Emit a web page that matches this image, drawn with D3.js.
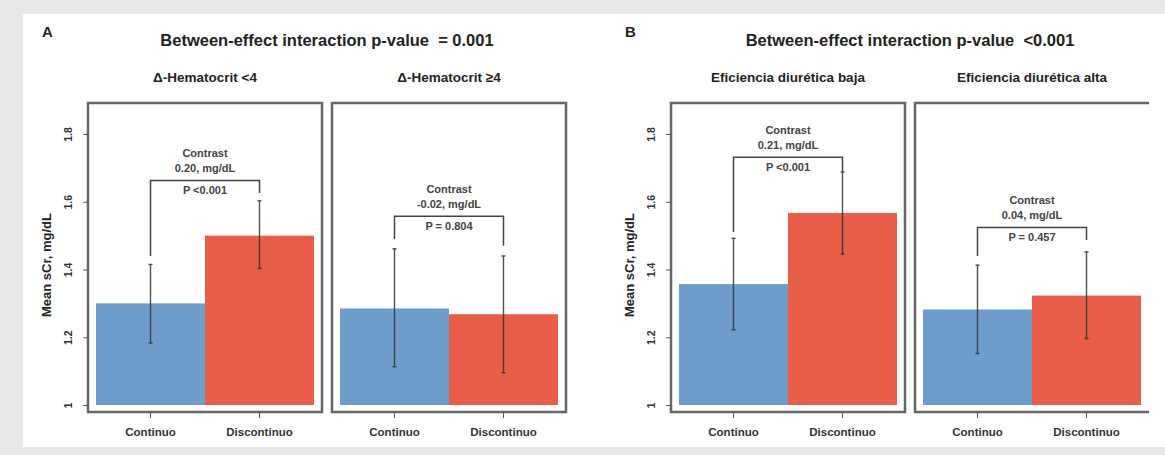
<!DOCTYPE html>
<html>
<head>
<meta charset="utf-8">
<script src="https://cdn.jsdelivr.net/npm/d3@7"></script>
<style>
	body { margin: 0; background: #e8e8e8; }
	svg text { font-family: "Liberation Sans", Arial, sans-serif; white-space: pre; }
</style>
</head>
<body>
<div id="chart"></div>
<script>
const CATEGORIES = ["Continuo", "Discontinuo"];
const FIGURE_LABELS = ["A", "B"];
const FIGURE_TITLES = ["Between-effect interaction p-value  = 0.001", "Between-effect interaction p-value  <0.001"];
const SUBGROUPS = ["Δ-Hematocrit <4", "Δ-Hematocrit ≥4", "Eficiencia diurética baja", "Eficiencia diurética alta"];
const SUBGROUP_FIGURE = [0, 0, 1, 1];

// mean sCr and error bar ends, one value per subgroup
const CONTINUO_MEAN = [1.30, 1.285, 1.357, 1.282];
const CONTINUO_LOW = [1.183, 1.113, 1.222, 1.152];
const CONTINUO_HIGH = [1.415, 1.461, 1.492, 1.413];
const DISCONTINUO_MEAN = [1.50, 1.268, 1.567, 1.323];
const DISCONTINUO_LOW = [1.403, 1.095, 1.446, 1.196];
const DISCONTINUO_HIGH = [1.603, 1.44, 1.688, 1.452];

// contrast brackets
const BRACKET_TOP = [1.663, 1.557, 1.731, 1.524];
const BRACKET_LEFT_END = [1.44, 1.49, 1.511, 1.44];
const BRACKET_RIGHT_END = [1.626, 1.47, 1.688, 1.487];
const CONTRAST_LABELS = ["0.20, mg/dL", "-0.02, mg/dL", "0.21, mg/dL", "0.04, mg/dL"];
const P_LABELS = ["P <0.001", "P = 0.804", "P <0.001", "P = 0.457"];

const Y_TICKS = [1, 1.2, 1.4, 1.6, 1.8];
const Y_LABEL = "Mean sCr, mg/dL";

const WIDTH = 1165;
const HEIGHT = 455;
const FIG_LEFT = [88, 671];
const BOX_W = 234;
const BOX_GAP = 10;
const BOX_TOP = 103;
const BOX_BOTTOM = 412;
const COLORS = ["#6f9dcb", "#e95e48"];
const FONT_DARK = "#222";

const svg = d3.select("#chart").append("svg")
	.attr("width", WIDTH)
	.attr("height", HEIGHT);

svg.append("rect").attr("width", WIDTH).attr("height", HEIGHT).attr("fill", "#e8e8e8");
svg.append("rect").attr("x", 23).attr("y", 14).attr("width", WIDTH - 23).attr("height", 433).attr("fill", "#fff");

const y = d3.scaleLinear().domain([1, 1.8]).range([405, 134]);

FIGURE_LABELS.forEach((label, f) => {
	const left = FIG_LEFT[f];
	const center = left + BOX_W + BOX_GAP / 2;
	svg.append("text")
		.attr("x", left - 46).attr("y", 37)
		.style("font-size", "15px").style("font-weight", "bold").attr("fill", FONT_DARK)
		.text(label);
	svg.append("text")
		.attr("x", center).attr("y", 46)
		.attr("text-anchor", "middle")
		.style("font-size", "16.5px").style("font-weight", "bold").attr("fill", FONT_DARK)
		.text(FIGURE_TITLES[f]);
});

SUBGROUPS.forEach((name, i) => {
	const f = SUBGROUP_FIGURE[i];
	const first = i === 0 || SUBGROUP_FIGURE[i - 1] !== f;
	const left = FIG_LEFT[f] + (first ? 0 : BOX_W + BOX_GAP);
	const right = left + BOX_W;
	const last = i === SUBGROUPS.length - 1;
	const g = svg.append("g");

	const x = d3.scaleBand().domain(CATEGORIES).range([left + 8, right - 8]);
	const bw = x.bandwidth();
	const rows = [
		{cat: CATEGORIES[0], mean: CONTINUO_MEAN[i], low: CONTINUO_LOW[i], high: CONTINUO_HIGH[i]},
		{cat: CATEGORIES[1], mean: DISCONTINUO_MEAN[i], low: DISCONTINUO_LOW[i], high: DISCONTINUO_HIGH[i]}
	];

	g.append("text")
		.attr("x", (left + right) / 2).attr("y", 82)
		.attr("text-anchor", "middle")
		.style("font-size", "13.5px").style("font-weight", "bold").attr("fill", FONT_DARK)
		.text(name);

	g.selectAll("rect.bar").data(rows).enter().append("rect")
		.attr("class", "bar")
		.attr("x", (d) => x(d.cat))
		.attr("y", (d) => y(d.mean))
		.attr("width", bw)
		.attr("height", (d) => y(1) - y(d.mean))
		.attr("fill", (d, j) => COLORS[j]);

	const err = g.selectAll("g.err").data(rows).enter().append("g")
		.attr("class", "err")
		.attr("stroke", "#333").attr("stroke-opacity", 0.85).attr("stroke-width", 1.4);
	err.append("line")
		.attr("x1", (d) => x(d.cat) + bw / 2).attr("x2", (d) => x(d.cat) + bw / 2)
		.attr("y1", (d) => y(d.low)).attr("y2", (d) => y(d.high));
	["low", "high"].forEach((k) => {
		err.append("line")
			.attr("x1", (d) => x(d.cat) + bw / 2 - 2).attr("x2", (d) => x(d.cat) + bw / 2 + 2)
			.attr("y1", (d) => y(d[k])).attr("y2", (d) => y(d[k]));
	});

	// contrast bracket
	const c0 = x(CATEGORIES[0]) + bw / 2;
	const c1 = x(CATEGORIES[1]) + bw / 2;
	const by = y(BRACKET_TOP[i]);
	g.append("path")
		.attr("d", `M${c0},${y(BRACKET_LEFT_END[i])}V${by}H${c1}V${y(BRACKET_RIGHT_END[i])}`)
		.attr("fill", "none").attr("stroke", "#444").attr("stroke-width", 1.5);
	const mid = (c0 + c1) / 2;
	[["Contrast", -23], [CONTRAST_LABELS[i], -8], [P_LABELS[i], 14]].forEach(([t, dy]) => {
		g.append("text")
			.attr("x", mid).attr("y", by + dy)
			.attr("text-anchor", "middle")
			.style("font-size", "11px").style("font-weight", "bold").attr("fill", "#444")
			.text(t);
	});

	// frame, the last one is cut at the right edge of the figure
	const frame = last
		? `M${right},${BOX_TOP}H${left}V${BOX_BOTTOM}H${right}`
		: `M${left},${BOX_TOP}H${right}V${BOX_BOTTOM}H${left}Z`;
	g.append("path").attr("d", frame)
		.attr("fill", "none").attr("stroke", "#666").attr("stroke-width", 2.5);

	// x axis
	const xa = g.append("g")
		.attr("transform", `translate(0,${BOX_BOTTOM})`)
		.call(d3.axisBottom(x).tickSize(6).tickPadding(10));
	xa.select(".domain").remove();
	xa.selectAll(".tick line").attr("stroke", "#555");
	xa.selectAll(".tick text")
		.style("font-size", "11.5px").style("font-weight", "bold").attr("fill", "#333");

	if (first) {
		const ya = g.append("g")
			.attr("transform", `translate(${left},0)`)
			.call(d3.axisLeft(y).tickValues(Y_TICKS).tickSize(5)
				.tickFormat((d) => (d === 1 ? "1" : d3.format(".1f")(d))));
		ya.select(".domain").remove();
		ya.selectAll(".tick line").attr("stroke", "#555");
		ya.selectAll(".tick text")
			.attr("x", 0).attr("dy", 0)
			.attr("text-anchor", "middle")
			.attr("transform", "translate(-16,0) rotate(-90)")
			.style("font-size", "10.5px").style("font-weight", "bold").attr("fill", "#333");
		g.append("text")
			.attr("transform", `translate(${left - 37},265) rotate(-90)`)
			.attr("text-anchor", "middle")
			.style("font-size", "13px").style("font-weight", "bold").attr("fill", FONT_DARK)
			.text(Y_LABEL);
	}
});
</script>
</body>
</html>
